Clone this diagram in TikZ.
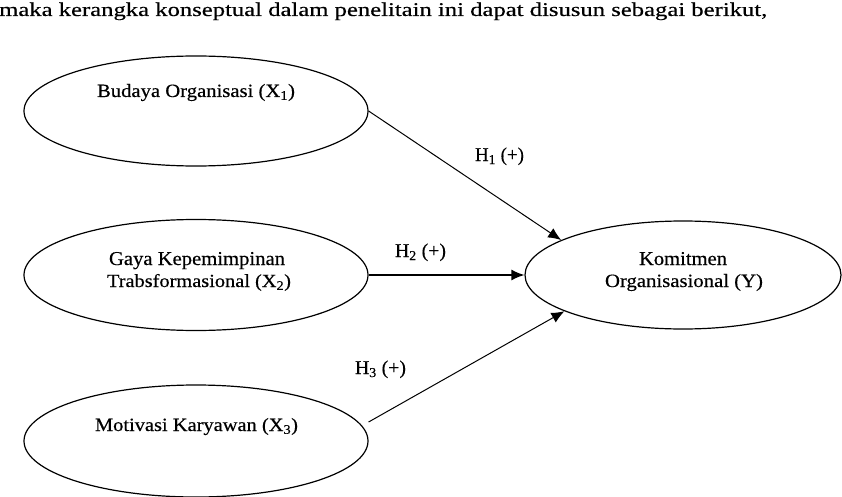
\documentclass[tikz,border=0pt]{standalone}
\usepackage{fontspec}
\usepackage{graphicx}
\setmainfont{Liberation Serif}[FakeBold=0.4]
\usetikzlibrary{shapes.geometric,arrows.meta}
\newcommand{\fitw}[4]{\resizebox{#1}{#2}{\fontsize{#3}{#3}\selectfont #4}}
\tikzset{
  x=1pt,y=-1pt,
  oval/.style={draw,ellipse,line width=1.2pt,inner sep=0pt},
  txt/.style={inner sep=0pt,anchor=base},
  link/.style={line width=1pt,-{Latex[length=13pt,width=11pt]}}
}
\begin{document}
\begin{tikzpicture}
\useasboundingbox[fill=white] (0,0) rectangle (842,497);
% title
\node[txt,anchor=base west] (title) at (-1,16) {\fitw{768pt}{13.5pt}{20}{maka kerangka konseptual dalam penelitain ini dapat disusun sebagai berikut,}};
% ellipses
\node[oval,minimum width=344pt,minimum height=110pt] (X1) at (196,111) {};
\node[oval,minimum width=344pt,minimum height=111pt] (X2) at (196,275) {};
\node[oval,minimum width=344pt,minimum height=112pt] (X3) at (196,441) {};
\node[oval,minimum width=316pt,minimum height=108pt] (Y) at (683,275) {};
% texts
\node[txt] (t1) at (196,97) {\fitw{198pt}{13pt}{19}{Budaya Organisasi (X\textsubscript{1})}};
\node[txt] (t2a) at (197,265) {\fitw{176pt}{13pt}{19}{Gaya Kepemimpinan}};
\node[txt] (t2b) at (199,287) {\fitw{184pt}{13pt}{19}{Trabsformasional (X\textsubscript{2})}};
\node[txt] (t3) at (196.5,431) {\fitw{203pt}{13pt}{19}{Motivasi Karyawan (X\textsubscript{3})}};
\node[txt] (ty1) at (683,265) {\fitw{88pt}{13pt}{19}{Komitmen}};
\node[txt] (ty2) at (684,287) {\fitw{158pt}{13pt}{19}{Organisasional (Y)}};
% arrows
\draw[link] (X1.east) -- (Y.164);
\draw[link,line width=1.5pt] (X2.east) -- (Y.west);
\draw[link] ([yshift=19pt]X3.east) -- (Y.197);
% labels
\node[txt] (h1) at (499.5,161) {\fitw{49pt}{13.5pt}{20}{H\textsubscript{1} (+)}};
\node[txt] (h2) at (420.5,257) {\fitw{51pt}{13.5pt}{20}{H\textsubscript{2} (+)}};
\node[txt] (h3) at (380.5,374) {\fitw{51pt}{13.5pt}{20}{H\textsubscript{3} (+)}};
\end{tikzpicture}
\end{document}
